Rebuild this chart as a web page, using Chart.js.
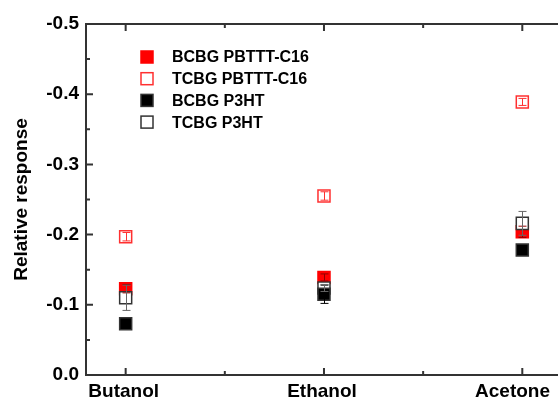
<!DOCTYPE html>
<html>
<head>
<meta charset="utf-8">
<script src="https://cdn.jsdelivr.net/npm/chart.js@4.4.1/dist/chart.umd.min.js"></script>
<style>
  body { margin: 0; background: #fff; }
  #wrap { width: 558px; height: 403px; }
</style>
</head>
<body>
<div id="wrap"><canvas id="chart" width="558" height="403"></canvas></div>
<script>
// 溶媒ごとの相対応答
const categories = ['Butanol', 'Ethanol', 'Acetone'];
const catPos = [1, 2, 3];
const seriesNames = ['BCBG PBTTT-C16', 'TCBG PBTTT-C16', 'BCBG P3HT', 'TCBG P3HT'];

const bcbgPbttt = [-0.123, -0.139, -0.204];
const bcbgPbtttErr = [0.006, 0.005, 0.008];
const tcbgPbttt = [-0.197, -0.255, -0.389];
const tcbgPbtttErr = [0.006, 0.006, 0.005];
const bcbgP3ht = [-0.073, -0.115, -0.178];
const bcbgP3htErr = [0.003, 0.013, 0.003];
const tcbgP3ht = [-0.110, -0.124, -0.216];
const tcbgP3htErr = [0.018, 0.005, 0.017];

const yTicks = [-0.5, -0.4, -0.3, -0.2, -0.1, 0.0];
const yMinor = [-0.45, -0.35, -0.25, -0.15, -0.05];
const xMinor = [1.5, 2.5];

const FONT = '"Liberation Sans", Arial, sans-serif';

function pts(vals) {
    return vals.map((v, i) => ({x: catPos[i], y: v}));
}

// 軸・目盛り（内向き）と凡例、エラーバー
const framePlugin = {
    id: 'frame',
    afterDatasetsDraw(chart) {
        const ctx = chart.ctx;
        const xs = chart.scales.x, ys = chart.scales.y;
        ctx.save();
        chart.data.datasets.forEach(ds => {
            ctx.strokeStyle = ds.errColor;
            ctx.lineWidth = 1;
            ds.data.forEach((p, i) => {
                const e = ds.err[i];
                const px = Math.round(xs.getPixelForValue(p.x)) + 0.5;
                const y1 = ys.getPixelForValue(p.y - e);
                const y2 = ys.getPixelForValue(p.y + e);
                ctx.beginPath();
                ctx.moveTo(px, y1); ctx.lineTo(px, y2);
                ctx.moveTo(px - 4, y1); ctx.lineTo(px + 4, y1);
                ctx.moveTo(px - 4, y2); ctx.lineTo(px + 4, y2);
                ctx.stroke();
            });
        });
        ctx.restore();
    },
    afterDraw(chart) {
        const ctx = chart.ctx;
        const a = chart.chartArea;
        const xs = chart.scales.x, ys = chart.scales.y;
        ctx.save();
        ctx.strokeStyle = '#333';
        ctx.lineWidth = 2;
        ctx.beginPath();
        ctx.moveTo(a.left, a.top); ctx.lineTo(a.left, a.bottom);
        ctx.moveTo(a.left - 1, a.bottom); ctx.lineTo(chart.width, a.bottom);
        ctx.moveTo(a.left - 1, a.top); ctx.lineTo(chart.width, a.top);
        ctx.stroke();

        ctx.lineWidth = 2;
        ctx.beginPath();
        yTicks.forEach(v => {
            const py = ys.getPixelForValue(v);
            ctx.moveTo(a.left, py); ctx.lineTo(a.left + 7, py);
        });
        yMinor.forEach(v => {
            const py = ys.getPixelForValue(v);
            ctx.moveTo(a.left, py); ctx.lineTo(a.left + 4, py);
        });
        catPos.forEach(v => {
            const px = xs.getPixelForValue(v);
            ctx.moveTo(px, a.bottom); ctx.lineTo(px, a.bottom - 7);
            ctx.moveTo(px, a.top); ctx.lineTo(px, a.top + 7);
        });
        xMinor.forEach(v => {
            const px = xs.getPixelForValue(v);
            ctx.moveTo(px, a.bottom); ctx.lineTo(px, a.bottom - 4);
            ctx.moveTo(px, a.top); ctx.lineTo(px, a.top + 4);
        });
        ctx.stroke();

        // x軸ラベル（右端ではみ出さないように寄せる）
        ctx.font = 'bold 19px ' + FONT;
        ctx.fillStyle = '#000';
        ctx.textAlign = 'center';
        ctx.textBaseline = 'top';
        categories.forEach((c, i) => {
            const w = ctx.measureText(c).width;
            let px = xs.getPixelForValue(catPos[i]) - 2;
            px = Math.min(px, chart.width - 8 - w / 2);
            ctx.fillText(c, px, a.bottom + 7);
        });

        // 凡例
        ctx.textAlign = 'left';
        ctx.font = 'bold 16px ' + FONT;
        ctx.textBaseline = 'middle';
        chart.data.datasets.forEach((ds, i) => {
            const cy = 57 + i * 21.7;
            const cx = 147;
            ctx.fillStyle = ds.backgroundColor;
            ctx.fillRect(cx - 6, cy - 6, 12, 12);
            ctx.strokeStyle = ds.borderColor;
            ctx.lineWidth = 1.5;
            ctx.strokeRect(cx - 6, cy - 6, 12, 12);
            ctx.fillStyle = '#000';
            ctx.fillText(ds.label, 172, cy + 1);
        });
        ctx.restore();
    }
};

const makeSet = (label, vals, errs, fill, border, errColor, order) => ({
    label: label,
    data: pts(vals),
    err: errs,
    errColor: errColor,
    backgroundColor: fill,
    borderColor: border,
    borderWidth: 1.5,
    pointStyle: 'rect',
    pointRadius: 8.5,
    pointHoverRadius: 8.5,
    showLine: false,
    order: order
});

const ctx = document.getElementById('chart');
const chart = new Chart(ctx, {
    type: 'scatter',
    data: {
        datasets: [
            makeSet(seriesNames[0], bcbgPbttt, bcbgPbtttErr, '#ff0000', '#ff0000', '#900000', 4),
            makeSet(seriesNames[1], tcbgPbttt, tcbgPbtttErr, '#ffffff', '#ff3030', '#ff3030', 3),
            makeSet(seriesNames[2], bcbgP3ht, bcbgP3htErr, '#000000', '#333333', '#000000', 1),
            makeSet(seriesNames[3], tcbgP3ht, tcbgP3htErr, '#ffffff', '#333333', '#666666', 2)
        ]
    },
    options: {
        responsive: false,
        animation: false,
        layout: {
            autoPadding: false,
            padding: { top: 24, right: 0, left: 0, bottom: 0 }
        },
        plugins: {
            legend: { display: false },
            tooltip: { enabled: false }
        },
        scales: {
            x: {
                type: 'linear',
                min: 0.8,
                max: 3.18,
                grid: { display: false, drawTicks: false },
                border: { display: false },
                afterBuildTicks: scale => {
                    scale.ticks = catPos.map(v => ({value: v}));
                },
                afterFit: scale => {
                    scale.height = 28;
                    scale.paddingLeft = 0;
                    scale.paddingRight = 0;
                },
                ticks: { display: false }
            },
            y: {
                reverse: true,
                min: -0.5,
                max: 0,
                grid: { display: false, drawTicks: false },
                border: { display: false },
                afterBuildTicks: scale => {
                    scale.ticks = yTicks.map(v => ({value: v}));
                },
                afterFit: scale => { scale.width = 86; },
                ticks: {
                    padding: 7,
                    color: '#000',
                    font: { family: FONT, size: 19, weight: 'bold' },
                    callback: (v) => (v === 0 ? '0.0' : v.toFixed(1))
                },
                title: {
                    display: true,
                    text: 'Relative response',
                    color: '#000',
                    font: { family: FONT, size: 19, weight: 'bold' },
                    padding: { top: 10, bottom: 0 }
                }
            }
        }
    },
    plugins: [framePlugin]
});
</script>
</body>
</html>
